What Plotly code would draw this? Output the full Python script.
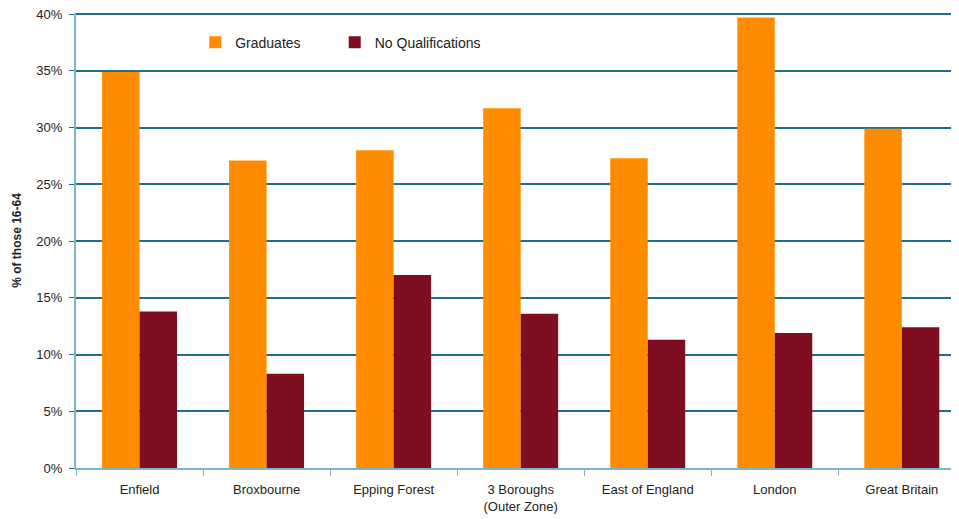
import plotly.graph_objects as go

categories = ["Enfield", "Broxbourne", "Epping Forest", "3 Boroughs<br>(Outer Zone)",
              "East of England", "London", "Great Britain"]
graduates = [34.9, 27.1, 28.0, 31.7, 27.3, 39.7, 29.9]
no_qual = [13.8, 8.3, 17.0, 13.6, 11.3, 11.9, 12.4]
tick_vals = [0, 5, 10, 15, 20, 25, 30, 35, 40]
tick_text = ["0%", "5%", "10%", "15%", "20%", "25%", "30%", "35%", "40%"]

font_family = "Liberation Sans, Arial, sans-serif"

fig = go.Figure()
fig.add_trace(go.Bar(name="Graduates", x=categories, y=graduates, legend="legend",
                     marker=dict(color="#FF8C00", line=dict(width=0))))
fig.add_trace(go.Bar(name="No Qualifications", x=categories, y=no_qual, legend="legend2",
                     marker=dict(color="#800E21", line=dict(width=0))))

legend_common = dict(orientation="h", y=0.97, xanchor="left", yanchor="top",
                     font=dict(size=14), bgcolor="rgba(0,0,0,0)",
                     itemwidth=30, tracegroupgap=0)

fig.update_layout(
    width=951, height=511,
    margin=dict(l=68, r=0, t=5, b=51),
    paper_bgcolor="white", plot_bgcolor="white",
    barmode="group", bargap=0.41, bargroupgap=0,
    font=dict(family=font_family, size=13, color="#222222"),
    showlegend=True,
    legend=dict(x=0.135, **legend_common),
    legend2=dict(x=0.293, **legend_common),
    xaxis=dict(range=[-0.5, 6.45], showgrid=False, showline=True,
               linecolor="#7FB3C8", linewidth=2,
               ticks="outside", ticklen=6, tickcolor="#7FB3C8",
               tickson="boundaries", tickfont=dict(size=13),
               ticklabelstandoff=8),
    yaxis=dict(range=[0, 40.1], tickvals=tick_vals, ticktext=tick_text,
               ticklabeloverflow="allow", ticklabelstandoff=4,
               showgrid=True, gridcolor="#1F6F8B", gridwidth=1.5,
               showline=True, linecolor="#7FB3C8", linewidth=2,
               ticks="outside", ticklen=5, tickcolor="#1F6F8B",
               tickfont=dict(size=13), zeroline=False,
               title=dict(text="<b>% of those 16-64</b>", font=dict(size=12), standoff=12)),
)

fig.write_html("out.html")
